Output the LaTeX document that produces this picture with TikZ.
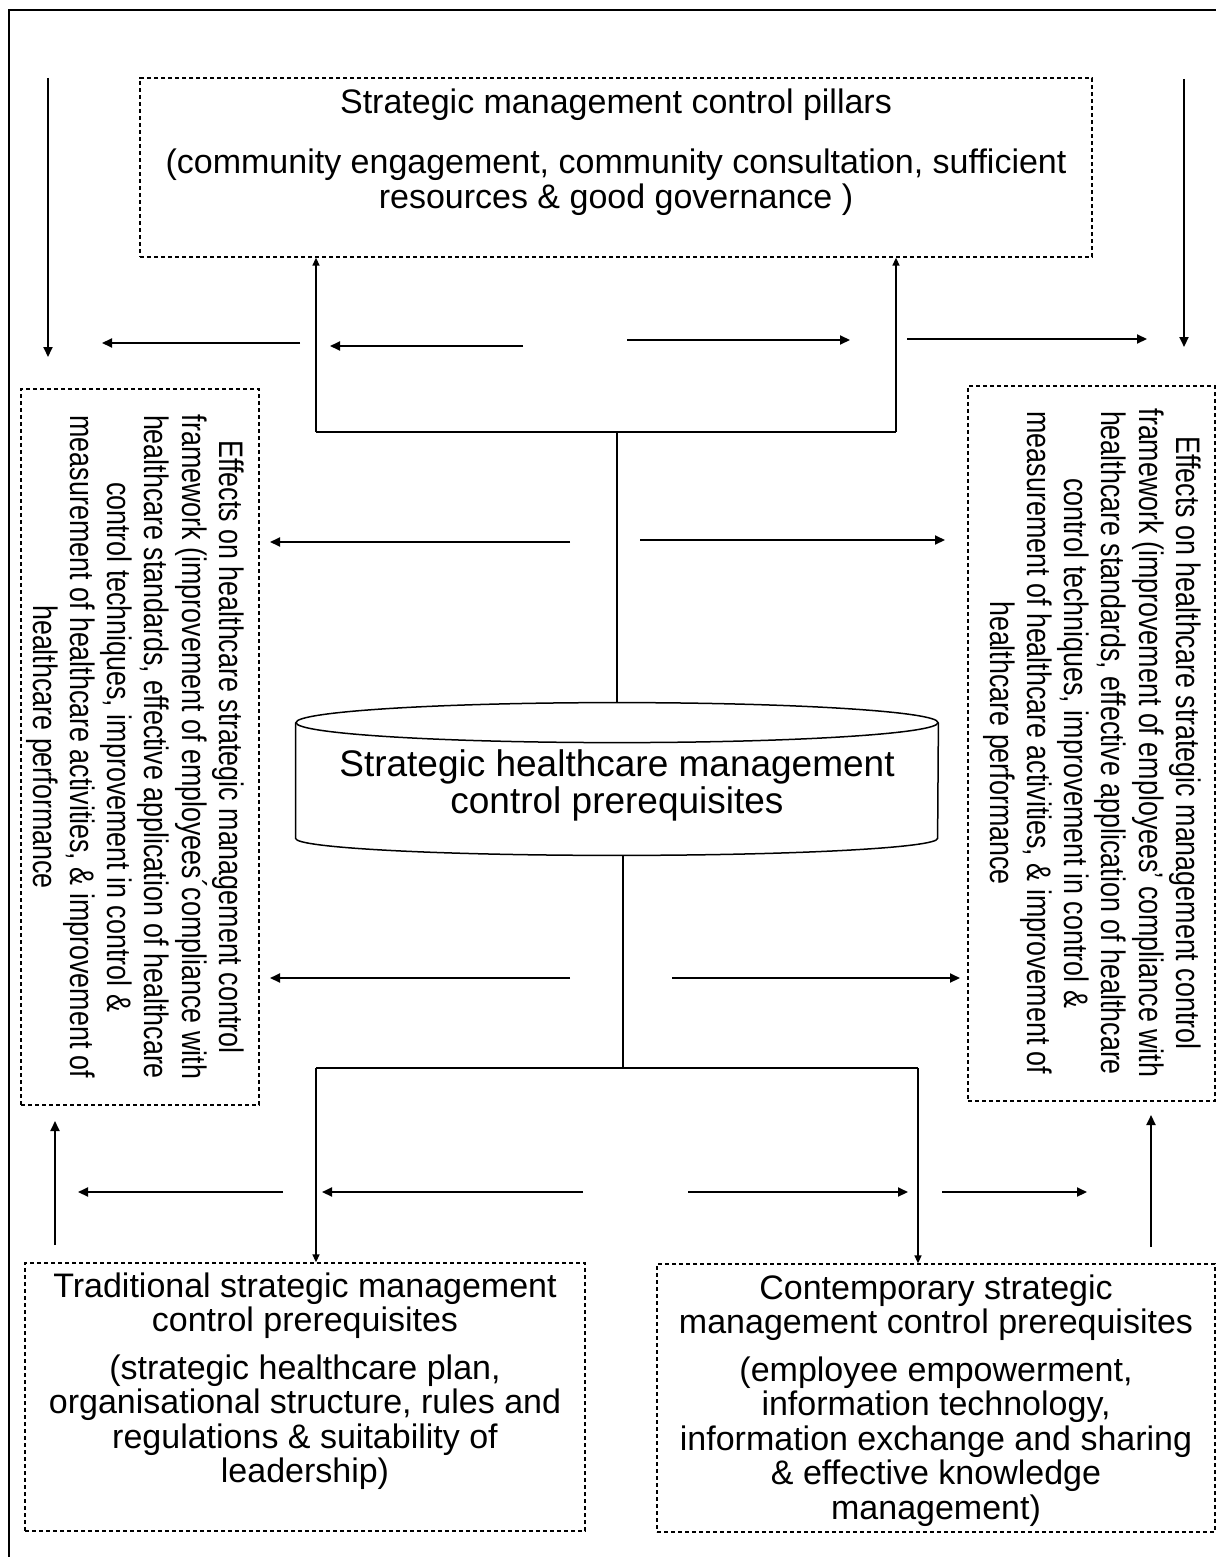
\documentclass[tikz,border=0pt]{standalone}
\usepackage{fontspec}
\setmainfont{Liberation Sans}
\newfontfamily\narrowfont[FakeStretch=0.79]{Liberation Sans}
\usetikzlibrary{arrows.meta,positioning}

\begin{document}
\begin{tikzpicture}[x=0.5pt,y=-0.5pt,
  box/.style={draw, line width=0.65pt, dash pattern=on 2.2pt off 1.3pt, inner sep=0pt},
  txt/.style={align=center, inner sep=0pt, font=\fontsize{17}{17.25}\selectfont},
  side/.style={align=center, inner sep=0pt, rotate=-90, font=\narrowfont\fontsize{17}{18.6}\selectfont},
  arr/.style={-{Triangle[length=5pt,width=4.5pt]}, line width=1pt},
  link/.style={line width=0.75pt},
  linkarr/.style={link, -{Triangle[length=4pt,width=3.5pt]}}]
\useasboundingbox (0,0) rectangle (1216,1557);
\draw[line width=1.3pt] (9,1557) -- (9,10) -- (1216,10);

% boxes
\node[box, minimum width=476pt, minimum height=89.5pt] (pillars) at (616,167.5) {};
\node[txt, anchor=north] (pillarstxt) at (616,88) {Strategic management control pillars\\[13pt]
  (community engagement, community consultation, sufficient\\ resources \& good governance )};
\node[box, minimum width=119pt, minimum height=358pt] (lefteff) at (140,747) {};
\node[side] (lefttxt) at (135,747) {Effects on healthcare strategic management control\\
  framework (improvement of employees´compliance with\\ healthcare standards, effective application of healthcare\\
  control techniques, improvement in control \&\\ measurement of healthcare activities, \& improvement of\\
  healthcare performance};
\node[box, minimum width=123.5pt, minimum height=357.5pt] (righteff) at (1091.5,743.5) {};
\node[side] (righttxt) at (1092,743) {Effects on healthcare strategic management control\\
  framework (improvement of employees’ compliance with\\ healthcare standards, effective application of healthcare\\
  control techniques, improvement in control \&\\ measurement of healthcare activities, \& improvement of\\
  healthcare performance};
\node[txt, font=\fontsize{18.5}{18.5}\selectfont, minimum width=321pt, minimum height=76pt] (prereq) at (617,785)
  {Strategic healthcare management\\ control prerequisites};
\node[box, minimum width=280pt, minimum height=134pt] (trad) at (305,1397) {};
\node[txt, anchor=north] (tradtxt) at (305,1272) {Traditional strategic management\\ control prerequisites\\[6.5pt]
  (strategic healthcare plan,\\ organisational structure, rules and\\ regulations \& suitability of\\ leadership)};
\node[box, minimum width=279pt, minimum height=134pt] (contemp) at (936,1398) {};
\node[txt, anchor=north] (contemptxt) at (936,1274) {Contemporary strategic\\ management control prerequisites\\[6.5pt]
  (employee empowerment,\\ information technology,\\ information exchange and sharing\\ \& effective knowledge\\ management)};

% cylinder outline
\draw[link] ([yshift=-7pt]prereq.north) ellipse [x radius=160.5pt, y radius=10pt];
\draw[link] ([yshift=-7pt]prereq.north west) -- ([yshift=11.5pt]prereq.south west)
  arc[start angle=180, end angle=360, x radius=160.5pt, y radius=8.5pt] -- ([yshift=-7pt]prereq.north east);

% tree connectors
\coordinate (topjoin) at (617,432);
\coordinate (topjoinL) at (316,432);
\coordinate (topjoinR) at (896,432);
\draw[link] ([yshift=3pt]prereq.north) -- (topjoin);
\draw[link] (topjoinL) -- (topjoinR);
\draw[linkarr] (topjoinL) -- (topjoinL |- pillars.south);
\draw[linkarr] (topjoinR) -- (topjoinR |- pillars.south);
\coordinate (botjoin) at (623,1068);
\coordinate (botjoinL) at (316,1068);
\coordinate (botjoinR) at (918,1068);
\draw[link] ([yshift=3pt]botjoin |- prereq.south) -- (botjoin);
\draw[link] (botjoinL) -- (botjoinR);
\draw[linkarr] (botjoinL) -- (botjoinL |- trad.north);
\draw[linkarr] (botjoinR) -- (botjoinR |- contemp.north);

% flow arrows
\draw[arr] (48,78) -- (48,357);
\draw[arr] (1184,79) -- (1184,347);
\draw[arr] (300,343) -- (102,343);
\draw[arr] (523,346) -- (330,346);
\draw[arr] (627,340) -- (850,340);
\draw[arr] (907,339) -- (1147,339);
\draw[arr] (570,542) -- (270,542);
\draw[arr] (640,540) -- (945,540);
\draw[arr] (570,978) -- (270,978);
\draw[arr] (672,978) -- (960,978);
\draw[arr] (283,1192) -- (78,1192);
\draw[arr] (583,1192) -- (322,1192);
\draw[arr] (688,1192) -- (908,1192);
\draw[arr] (942,1192) -- (1087,1192);
\draw[arr] (55,1245) -- (55,1121);
\draw[arr] (1151,1247) -- (1151,1115);
\end{tikzpicture}
\end{document}
